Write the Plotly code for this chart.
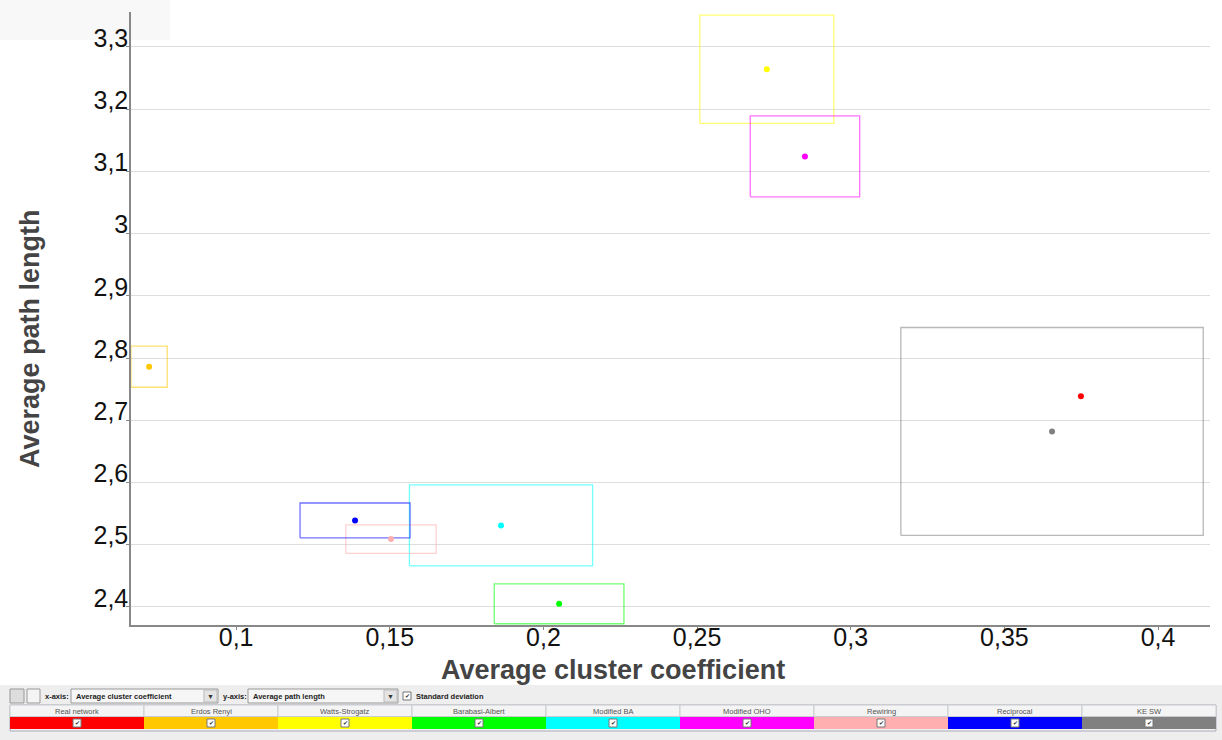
import plotly.graph_objects as go

# ---------------- data ----------------
series = ["Real network", "Erdos Renyi", "Watts-Strogatz", "Barabasi-Albert",
          "Modified BA", "Modified OHO", "Rewiring", "Reciprocal", "KE SW"]
colors = ["#FF0000", "#FFC800", "#FFFF00", "#00FF00", "#00FFFF",
          "#FF00FF", "#FFAFAF", "#0000FF", "#808080"]
cluster_mean = [0.3749, 0.0717, 0.2727, 0.2051, 0.1862, 0.2851, 0.1504, 0.1387, 0.3655]
cluster_std = [None, 0.0059, 0.0218, 0.0211, 0.0298, 0.0178, 0.0147, 0.0179, 0.0492]
path_mean = [2.7386, 2.786, 3.264, 2.405, 2.531, 3.124, 2.509, 2.539, 2.682]
path_std = [None, 0.033, 0.087, 0.032, 0.065, 0.065, 0.023, 0.028, 0.167]

x_title = "Average cluster coefficient"
y_title = "Average path length"

W, H = 1222, 740
L, R, T, B = 131, 12, 12, 115

fig = go.Figure()

# std-dev boxes
for name, c, xm, xs, ym, ys in zip(series, colors, cluster_mean, cluster_std, path_mean, path_std):
    if xs is None or ys is None:
        continue
    fig.add_trace(go.Scatter(
        x=[xm - xs, xm + xs, xm + xs, xm - xs, xm - xs],
        y=[ym - ys, ym - ys, ym + ys, ym + ys, ym - ys],
        mode="lines", line=dict(color=c, width=1.3), opacity=0.55,
        hoverinfo="skip", showlegend=False, cliponaxis=True))

# mean points
for name, c, xm, ym in zip(series, colors, cluster_mean, path_mean):
    fig.add_trace(go.Scatter(x=[xm], y=[ym], mode="markers", name=name,
                             marker=dict(color=c, size=6), showlegend=False))

font_main = "Liberation Sans, Arial, sans-serif"

fig.update_layout(
    width=W, height=H,
    margin=dict(l=L, r=R, t=T, b=B),
    paper_bgcolor="white", plot_bgcolor="white",
    separators=", ",
    font=dict(family=font_main, color="#111"),
    xaxis=dict(range=[0.0658, 0.4169], dtick=0.05, tick0=0.1,
               showgrid=False, zeroline=False,
               showline=True, linecolor="#888", linewidth=1.5,
               ticks="outside", ticklen=3, tickcolor="#888",
               ticklabelstandoff=-14,
               tickfont=dict(size=25, color="#111")),
    yaxis=dict(range=[2.371, 3.356], dtick=0.1, tick0=2.4,
               showgrid=True, gridcolor="#DDDDDD", gridwidth=1.2,
               zeroline=False,
               showline=True, linecolor="#888", linewidth=1.5,
               ticks="outside", ticklen=3, tickcolor="#888",
               ticklabelstandoff=-7, ticklabelshift=-9,
               tickfont=dict(size=25, color="#111")),
)

# ---------- helpers for pixel-placed chrome ----------
def px(x):
    return (x - L) / (W - L - R)

def py(y):
    return (H - B - y) / (H - T - B)

shapes = []
annots = []

def rect(x0, y0, x1, y1, fill, line="rgba(0,0,0,0)", lw=1, layer="above"):
    shapes.append(dict(type="rect", xref="paper", yref="paper",
                       x0=px(x0), x1=px(x1), y0=py(y1), y1=py(y0),
                       fillcolor=fill, line=dict(color=line, width=lw), layer=layer))

def text(x, y, s, size=8, anchor="left", color="#222", bold=False, angle=0, family=font_main):
    annots.append(dict(xref="paper", yref="paper", x=px(x), y=py(y), text=("<b>%s</b>" % s) if bold else s,
                       showarrow=False, xanchor=anchor, yanchor="middle", textangle=angle,
                       font=dict(size=size, color=color, family=family)))

# faint top-left panel
rect(0, 0, 170, 40, "#F8F8F8", layer="below")

# axis titles
text(613, 670, x_title, 27, anchor="center", color="#444", bold=True)
text(30, 339, y_title, 27, anchor="center", color="#444", bold=True, angle=-90)

# panel background
rect(0, 685, W, H, "#EEEEEE")
# toolbar icons
rect(10, 689, 24, 703, "#DDDDDD", "#999")
rect(27, 689, 40, 703, "#F4F4F4", "#999")
text(43, 696, "x-axis:", 7.5, bold=True)
rect(71, 689, 218, 703, "#F6F6F6", "#999")
text(74, 696, "Average cluster coefficient", 7.5, bold=True)
rect(204, 690, 217, 702, "#E4E4E4", "#BBB")
text(210.5, 696, "▼", 7, anchor="center", color="#333")
text(221, 696, "y-axis:", 7.5, bold=True)
rect(248, 689, 398, 703, "#F6F6F6", "#999")
text(251, 696, "Average path length", 7.5, bold=True)
rect(384, 690, 397, 702, "#E4E4E4", "#BBB")
text(390.5, 696, "▼", 7, anchor="center", color="#333")
rect(403, 692, 411, 700, "white", "#777")
text(407, 696, "✔", 6, anchor="center", color="#333")
text(414, 696, "Standard deviation", 7.5, bold=True)

# legend table
x0t, x1t = 10, 1216
colw = (x1t - x0t) / len(series)
rect(x0t, 705, x1t, 731, "#F2F2F2", "#AAB")
for i, (name, c) in enumerate(zip(series, colors)):
    a = x0t + i * colw
    b = a + colw
    rect(a, 705, b, 716.5, "#F4F4F4", "#C8CCD0")
    text((a + b) / 2, 711, name, 7.5, anchor="center", color="#555")
    rect(a, 717, b, 729, c, "rgba(0,0,0,0)")
    m = (a + b) / 2
    rect(m - 4, 719, m + 4, 727, "white", "#777")
    text(m, 723, "✔", 6, anchor="center", color="#333")

fig.update_layout(shapes=shapes, annotations=annots)

fig.write_html("out.html")
